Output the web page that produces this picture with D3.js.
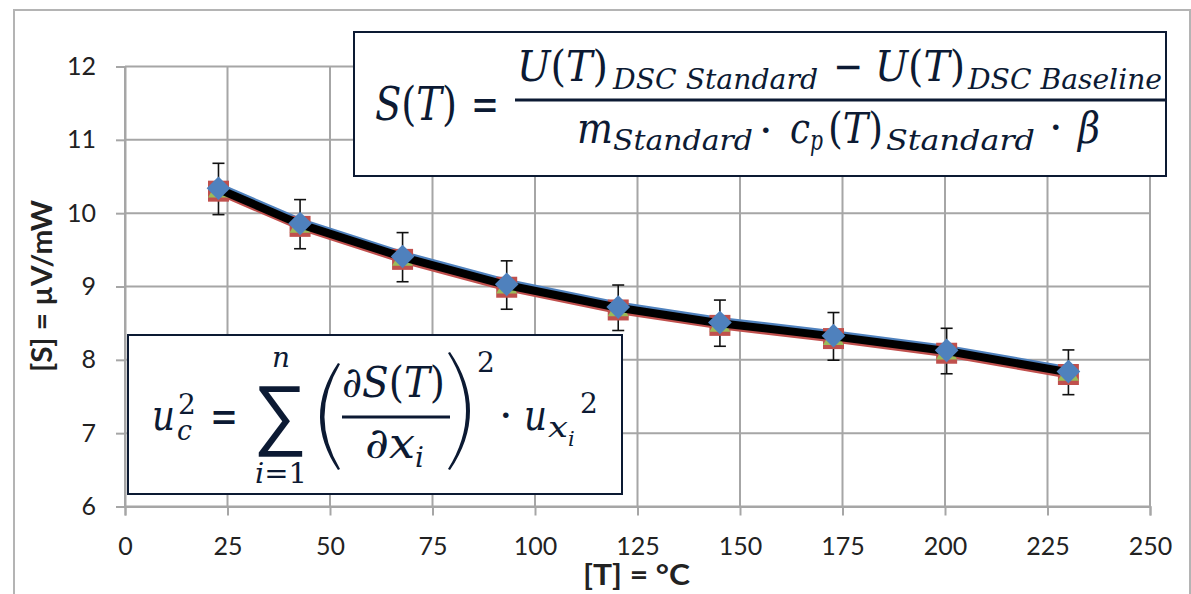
<!DOCTYPE html>
<html>
<head>
<meta charset="utf-8">
<script src="https://d3js.org/d3.v7.min.js"></script>
<style>
  body { margin: 0; background: #fff; }
</style>
</head>
<body>
<div id="chart"></div>
<script>
// temperatures in °C
var temps = [22.8, 42.7, 67.7, 93.1, 120.3, 145.1, 172.8, 200.4, 230.1];
// sensitivity series in µV/mW
var sMean  = [10.33, 9.85, 9.40, 9.02, 8.71, 8.50, 8.32, 8.12, 7.83];
var sBlue  = [10.36, 9.88, 9.43, 9.05, 8.74, 8.53, 8.35, 8.15, 7.86];
var sGreen = [10.31, 9.83, 9.38, 9.00, 8.69, 8.48, 8.30, 8.10, 7.81];
var sRed   = [10.30, 9.82, 9.37, 8.99, 8.68, 8.47, 8.29, 8.09, 7.80];
// half width of the error bars
var sErr   = [0.35, 0.335, 0.335, 0.33, 0.31, 0.315, 0.325, 0.31, 0.305];

var xTicks = [0, 25, 50, 75, 100, 125, 150, 175, 200, 225, 250];
var yTicks = [6, 7, 8, 9, 10, 11, 12];

var width = 1191, height = 594;
var plot = { left: 125, right: 1150, top: 66.5, bottom: 506.5 };
var gridColor = "#a6a6a6";
var ink = "#0c1a33";

var svg = d3.select("#chart").append("svg")
    .attr("width", width)
    .attr("height", height);

// outer chart frame
svg.append("rect")
    .attr("x", 14).attr("y", 10)
    .attr("width", 1176).attr("height", 620)
    .attr("fill", "none")
    .attr("stroke", "#b4b4b4")
    .attr("stroke-width", 2);

var x = d3.scaleLinear().domain([0, 250]).range([plot.left, plot.right]);
var y = d3.scaleLinear().domain([6, 12]).range([plot.bottom, plot.top]);

// grid
svg.append("g").selectAll("line")
    .data(xTicks)
    .enter().append("line")
    .attr("x1", d => x(d)).attr("x2", d => x(d))
    .attr("y1", plot.top).attr("y2", plot.bottom)
    .attr("stroke", gridColor).attr("stroke-width", 2);

svg.append("g").selectAll("line")
    .data(yTicks)
    .enter().append("line")
    .attr("x1", plot.left).attr("x2", plot.right)
    .attr("y1", d => y(d)).attr("y2", d => y(d))
    .attr("stroke", gridColor).attr("stroke-width", 2);

// axes
var xAxis = svg.append("g")
    .attr("transform", "translate(0," + plot.bottom + ")")
    .call(d3.axisBottom(x).tickValues(xTicks).tickSize(9).tickPadding(22).tickFormat(d3.format("d")));

var yAxis = svg.append("g")
    .attr("transform", "translate(" + plot.left + ",0)")
    .call(d3.axisLeft(y).tickValues(yTicks).tickSize(9).tickPadding(20).tickFormat(d3.format("d")));

[xAxis, yAxis].forEach(function(a) {
    a.select(".domain").attr("stroke", gridColor).attr("stroke-width", 2);
    a.selectAll(".tick line").attr("stroke", gridColor).attr("stroke-width", 2);
    a.selectAll("text")
        .attr("fill", "#222")
        .style("font-family", "Lato, 'Open Sans', sans-serif")
        .style("font-size", "25px");
});

// axis titles
svg.append("text")
    .attr("x", 583).attr("y", 585)
    .attr("textLength", 107).attr("lengthAdjust", "spacingAndGlyphs")
    .style("font-family", "Lato, 'Open Sans', sans-serif")
    .style("font-weight", "bold")
    .style("font-size", "28px")
    .attr("fill", "#222")
    .text("[T] = °C");

svg.append("text")
    .attr("transform", "translate(52,372) rotate(-90)")
    .attr("textLength", 172).attr("lengthAdjust", "spacingAndGlyphs")
    .style("font-family", "Lato, 'Open Sans', sans-serif")
    .style("font-weight", "bold")
    .style("font-size", "28px")
    .attr("fill", "#222")
    .text("[S] = µV/mW");

// error bars on the mean series
var eb = svg.append("g").attr("stroke", "#111").attr("stroke-width", 1.6);
temps.forEach(function(t, i) {
    var cx = x(t), top = y(sMean[i] + sErr[i]), bot = y(sMean[i] - sErr[i]);
    eb.append("line").attr("x1", cx).attr("x2", cx).attr("y1", top).attr("y2", bot);
    eb.append("line").attr("x1", cx - 6).attr("x2", cx + 6).attr("y1", top).attr("y2", top);
    eb.append("line").attr("x1", cx - 6).attr("x2", cx + 6).attr("y1", bot).attr("y2", bot);
});

function lineFor(vals) {
    return d3.line()
        .x((d, i) => x(temps[i]))
        .y(d => y(d))(vals);
}

// series lines, mean line on top
svg.append("path").attr("d", lineFor(sRed))
    .attr("fill", "none").attr("stroke", "#c0504d").attr("stroke-width", 8);
svg.append("path").attr("d", lineFor(sBlue))
    .attr("fill", "none").attr("stroke", "#4f81bd").attr("stroke-width", 8);

svg.append("g").selectAll("path")
    .data(sRed)
    .enter().append("path")
    .attr("d", d3.symbol().type(d3.symbolSquare).size(441))
    .attr("transform", (d, i) => "translate(" + x(temps[i]) + "," + y(d) + ")")
    .attr("fill", "#c0504d");

svg.append("g").selectAll("path")
    .data(sGreen)
    .enter().append("path")
    .attr("d", d3.symbol().type(d3.symbolTriangle).size(190))
    .attr("transform", (d, i) => "translate(" + x(temps[i]) + "," + (y(d) + 1) + ")")
    .attr("fill", "#9bbb59");

svg.append("path").attr("d", lineFor(sMean))
    .attr("fill", "none").attr("stroke", "#000").attr("stroke-width", 8);

svg.append("g").selectAll("path")
    .data(sBlue)
    .enter().append("path")
    .attr("d", d3.symbol().type(d3.symbolSquare).size(280))
    .attr("transform", (d, i) => "translate(" + x(temps[i]) + "," + (y(d) + 1.5) + ") rotate(45)")
    .attr("fill", "#4f81bd");

// formulas: one text element each, pieces placed as tspans
function piece(t, parts, xp, yp, size, len, family, weight) {
    var s = t.append("tspan")
        .attr("x", xp).attr("y", yp)
        .style("font-size", size + "px");
    if (family) s.style("font-family", family);
    if (weight) s.style("font-weight", weight);
    parts.forEach(function(p) {
        s.append("tspan").text(p[0]).style("font-style", p[1] ? "italic" : "normal");
    });
    if (len) s.attr("textLength", len).attr("lengthAdjust", "spacingAndGlyphs");
    return s;
}

function formulaText(g) {
    return g.append("text")
        .attr("fill", ink)
        .style("font-family", "'DejaVu Serif', serif");
}

var big = 43, sub = 28;

var f1 = svg.append("g");
f1.append("rect")
    .attr("x", 354).attr("y", 32).attr("width", 812).attr("height", 144)
    .attr("fill", "#fff").attr("stroke", ink).attr("stroke-width", 2);
f1.append("line").attr("x1", 515).attr("x2", 1166).attr("y1", 100).attr("y2", 100)
    .attr("stroke", ink).attr("stroke-width", 3);
var t1 = formulaText(f1);
piece(t1, [["S", 1], ["(", 0], ["T", 1], [")", 0]], 375, 120, 46, 82);
piece(t1, [["=", 0]], 471, 120, 46, 28);
piece(t1, [["U", 1], ["(", 0], ["T", 1], [")", 0]], 517, 81, big, 91);
piece(t1, [["DSC Standard", 1]], 613, 89, sub, 205);
piece(t1, [["\u2212", 0]], 833, 81, big, 30);
piece(t1, [["U", 1], ["(", 0], ["T", 1], [")", 0]], 875, 81, big, 90);
piece(t1, [["DSC Baseline", 1]], 968, 89, sub, 194);
piece(t1, [["m", 1]], 577, 143, big, 36);
piece(t1, [["Standard", 1]], 613, 150, sub, 140);
piece(t1, [["\u00b7", 0]], 759, 145, big);
piece(t1, [["c", 1]], 790, 143, big, 20);
piece(t1, [["p", 1]], 810, 150, sub, 13);
piece(t1, [["(", 0], ["T", 1], [")", 0]], 828, 143, big, 55);
piece(t1, [["Standard", 1]], 886, 150, sub, 149);
piece(t1, [["\u00b7", 0]], 1049, 142, big);
piece(t1, [["\u03b2", 1]], 1078, 143, big, 22);

var f2 = svg.append("g");
f2.append("rect")
    .attr("x", 128).attr("y", 335).attr("width", 494).attr("height", 159)
    .attr("fill", "#fff").attr("stroke", ink).attr("stroke-width", 2);
// large brackets
f2.append("path")
    .attr("d", "M338,363 Q302,416.5 338,470 L340,469 Q309,416.5 340,364 Z")
    .attr("fill", ink);
f2.append("path")
    .attr("d", "M450,352 Q490,411 450,470 L448,469 Q484,411 448,353 Z")
    .attr("fill", ink);
f2.append("line").attr("x1", 342).attr("x2", 450).attr("y1", 417).attr("y2", 417)
    .attr("stroke", ink).attr("stroke-width", 3);
var t2 = formulaText(f2);
piece(t2, [["u", 1]], 152, 430, big, 23);
piece(t2, [["2", 0]], 178, 414, sub);
piece(t2, [["c", 1]], 177, 440, sub, 15);
piece(t2, [["=", 0]], 210, 432, 46, 28);
piece(t2, [["\u2211", 0]], 253, 440, 78, 54, "'DejaVu Sans', sans-serif", 200);
piece(t2, [["n", 1]], 272, 367, sub, 18);
piece(t2, [["i", 1], ["=1", 0]], 255, 483, sub, 52);
piece(t2, [["\u2202S", 1], ["(", 0], ["T", 1], [")", 0]], 342, 397, big, 103);
piece(t2, [["\u2202x", 1]], 365, 458, big, 50);
piece(t2, [["i", 1]], 415, 467, sub);
piece(t2, [["2", 0]], 477, 372, sub);
piece(t2, [["\u00b7", 0]], 499, 430, big);
piece(t2, [["u", 1]], 524, 430, big, 23);
piece(t2, [["x", 1]], 548, 437, sub, 20);
piece(t2, [["i", 1]], 568, 446, 21);
piece(t2, [["2", 0]], 580, 413, sub);
</script>
</body>
</html>
